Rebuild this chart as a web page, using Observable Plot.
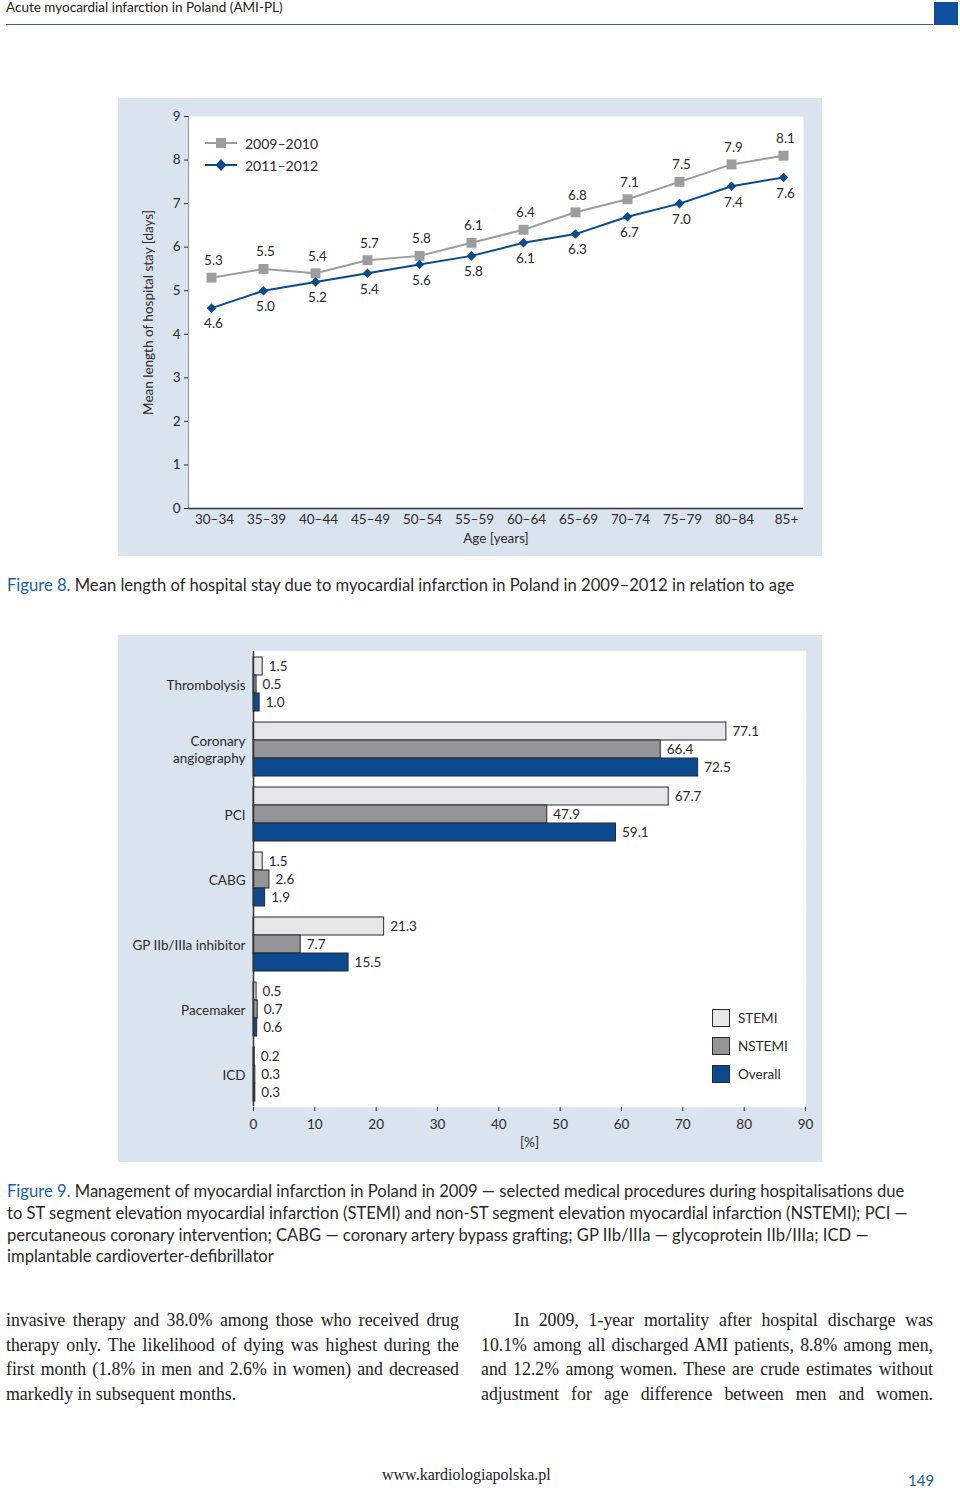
<!DOCTYPE html>
<html>
<head>
<meta charset="utf-8">
<script src="https://cdn.jsdelivr.net/npm/d3@7"></script>
<script src="https://cdn.jsdelivr.net/npm/@observablehq/plot@0.6"></script>
<style>
  html, body { margin: 0; padding: 0; background: #fff; }
  #page { position: relative; width: 960px; height: 1493px; overflow: hidden; font-family: Lato, "Noto Sans", sans-serif; color: #2a2a2a; }
  .abs { position: absolute; }
  .panel { background: #dae4ee; }
  .serif { font-family: "Liberation Serif", "DejaVu Serif", serif; }
  .jl { text-align: justify; text-align-last: justify; white-space: nowrap; }
  .blue { color: #1a5fae; }
  .leg { font-size: 14px; display: flex; align-items: center; height: 22px; }
</style>
</head>
<body>
<div id="page">
  <div class="abs" style="left:6px; top:-1px; font-size:13.5px; color:#222;">Acute myocardial infarction in Poland (AMI-PL)</div>
  <div class="abs" style="left:6px; top:24px; width:927px; height:1px; background:#3e5f7e;"></div>
  <div class="abs" style="left:934px; top:2px; width:24px; height:23px; background:#0f4f9e;"></div>

  <div id="panel1" class="abs panel" style="left:118px; top:98px; width:704px; height:458px;"></div>
  <div id="legend1" class="abs" style="left:205px; top:132px;"></div>

  <div class="abs" style="left:7px; top:575px; font-size:16.6px; white-space:nowrap;"><span class="blue">Figure 8.</span> Mean length of hospital stay due to myocardial infarction in Poland in 2009–2012 in relation to age</div>

  <div id="panel2" class="abs panel" style="left:118px; top:635px; width:704px; height:527px;"></div>
  <div id="legend2" class="abs" style="left:712px; top:1004px;"></div>

  <div class="abs" style="left:7px; top:1181px; font-size:16.6px; line-height:21.8px; white-space:nowrap;"><span class="blue">Figure 9.</span> Management of myocardial infarction in Poland in 2009 — selected medical procedures during hospitalisations due<br>to ST segment elevation myocardial infarction (STEMI) and non-ST segment elevation myocardial infarction (NSTEMI); PCI —<br>percutaneous coronary intervention; CABG — coronary artery bypass grafting; GP IIb/IIIa — glycoprotein IIb/IIIa; ICD —<br>implantable cardioverter-defibrillator</div>

  <div class="abs serif" style="left:6px; top:1308px; width:453px; font-size:17.8px; line-height:24.5px; color:#222;">
    <div class="jl">invasive therapy and 38.0% among those who received drug</div>
    <div class="jl">therapy only. The likelihood of dying was highest during the</div>
    <div class="jl">first month (1.8% in men and 2.6% in women) and decreased</div>
    <div style="white-space:nowrap;">markedly in subsequent months.</div>
  </div>
  <div class="abs serif" style="left:481px; top:1308px; width:452px; font-size:17.8px; line-height:24.5px; color:#222;">
    <div class="jl" style="padding-left:33px;">In 2009, 1-year mortality after hospital discharge was</div>
    <div class="jl">10.1% among all discharged AMI patients, 8.8% among men,</div>
    <div class="jl">and 12.2% among women. These are crude estimates without</div>
    <div class="jl">adjustment for age difference between men and women.</div>
  </div>

  <div class="abs serif" style="left:382px; top:1466px; font-size:16px; color:#222;">www.kardiologiapolska.pl</div>
  <div class="abs blue" style="left:908px; top:1471px; font-size:15px;">149</div>
</div>
<script>
// ---------- Figure 8 data ----------
const ages = ["30–34","35–39","40–44","45–49","50–54","55–59","60–64","65–69","70–74","75–79","80–84","85+"];
const periods = ["2009–2010","2011–2012"];
const stay2009_2010 = [5.3,5.5,5.4,5.7,5.8,6.1,6.4,6.8,7.1,7.5,7.9,8.1];
const stay2011_2012 = [4.6,5.0,5.2,5.4,5.6,5.8,6.1,6.3,6.7,7.0,7.4,7.6];
const yTicks1 = [0,1,2,3,4,5,6,7,8,9];

// ---------- Figure 9 data ----------
const procedures = ["Thrombolysis","Coronary\nangiography","PCI","CABG","GP IIb/IIIa inhibitor","Pacemaker","ICD"];
const groups = ["STEMI","NSTEMI","Overall"];
const stemi   = [1.5,77.1,67.7,1.5,21.3,0.5,0.2];
const nstemi  = [0.5,66.4,47.9,2.6,7.7,0.7,0.3];
const overall = [1.0,72.5,59.1,1.9,15.5,0.6,0.3];
const xTicks2 = [0,10,20,30,40,50,60,70,80,90];

const periodColors = ["#9d9d9d","#0b4a8f"];
const groupColors = ["#e6e7e8","#939598","#0b4a8f"];
const fmt = d3.format(".1f");

// ---------- Figure 8 ----------
const rowsA = ages.map((a,i)=>({age:a, period:periods[0], v:stay2009_2010[i]}));
const rowsB = ages.map((a,i)=>({age:a, period:periods[1], v:stay2011_2012[i]}));
const rows1 = rowsA.concat(rowsB);

const chart1 = Plot.plot({
  width: 704, height: 458,
  marginLeft: 70, marginRight: 19, marginTop: 18, marginBottom: 48,
  style: {fontFamily: "Lato, 'Noto Sans', sans-serif", fontSize: "13.5px", color: "#2a2a2a", background: "transparent", overflow: "visible"},
  x: {type: "point", domain: ages, range: [93, 665], padding: 0, round: false},
  y: {domain: [0,9], ticks: yTicks1, label: "Mean length of hospital stay [days]", labelAnchor: "center", labelArrow: "none", labelOffset: 45, tickSize: 4, tickPadding: 4, line: true},
  color: {domain: periods, range: periodColors},
  marks: [
    Plot.frame({fill: "white", stroke: null}),
    Plot.axisX({tickSize: 0, tickPadding: 6, dx: 3, label: null}),
    Plot.axisX({ticks: [], tickSize: 0, label: "Age [years]", labelAnchor: "center", labelArrow: "none", labelOffset: 34}),
    Plot.line(rows1, {x: "age", y: "v", z: "period", stroke: "period", strokeWidth: 2}),
    Plot.dot(rowsA, {x: "age", y: "v", symbol: "square", r: 5.6, fill: periodColors[0], stroke: null}),
    Plot.dot(rowsB, {x: "age", y: "v", symbol: "diamond2", r: 4.3, fill: periodColors[1], stroke: null}),
    Plot.text(rowsA, {x: "age", y: "v", text: d => fmt(d.v), dx: 2, dy: -17, fill: "#2a2a2a"}),
    Plot.text(rowsB, {x: "age", y: "v", text: d => fmt(d.v), dx: 2, dy: 16, fill: "#2a2a2a"}),
    Plot.ruleY([0], {stroke: "#333", strokeWidth: 1.5})
  ]
});
chart1.style.position = "absolute"; chart1.style.left = "0px"; chart1.style.top = "0px";
document.getElementById("panel1").appendChild(chart1);

// legend 1
const leg1 = document.getElementById("legend1");
periods.forEach((p,i) => {
  const row = document.createElement("div");
  row.className = "leg";
  const sym = i === 0
    ? `<rect x="11" y="6" width="10" height="10" fill="${periodColors[i]}"/>`
    : `<path d="M16,5 L21.5,11 L16,17 L10.5,11 Z" fill="${periodColors[i]}"/>`;
  row.innerHTML = `<svg width="32" height="22" style="margin-right:8px"><line x1="0" x2="32" y1="11" y2="11" stroke="${periodColors[i]}" stroke-width="2"/>${sym}</svg><span>${p}</span>`;
  leg1.appendChild(row);
});

// ---------- Figure 9 ----------
const rows2 = [];
procedures.forEach((p,i) => {
  rows2.push({procedure: p, group: groups[0], value: stemi[i]});
  rows2.push({procedure: p, group: groups[1], value: nstemi[i]});
  rows2.push({procedure: p, group: groups[2], value: overall[i]});
});

const chart2 = Plot.plot({
  width: 704, height: 527,
  marginLeft: 135, marginRight: 17, marginTop: 14, marginBottom: 55,
  style: {fontFamily: "Lato, 'Noto Sans', sans-serif", fontSize: "13.5px", color: "#2a2a2a", background: "transparent", overflow: "visible"},
  x: {domain: [0,90], ticks: xTicks2, label: "[%]", labelAnchor: "center", labelArrow: "none", labelOffset: 40, tickSize: 5, tickPadding: 8, line: true},
  y: {domain: groups, axis: null, paddingInner: 0, paddingOuter: 0.28},
  fy: {domain: procedures, padding: 0, axis: null, label: null},
  color: {domain: groups, range: groupColors},
  marks: [
    Plot.frame({fill: "white", stroke: "white", strokeWidth: 1.5}),
    Plot.axisFy({anchor: "left", tickSize: 0, tickPadding: 8, label: null, lineHeight: 1.3}),
    Plot.barX(rows2, {x: "value", y: "group", fy: "procedure", fill: "group", stroke: "#2a2a2a", strokeWidth: 1}),
    Plot.text(rows2, {x: "value", y: "group", fy: "procedure", text: d => fmt(d.value), dx: 6, textAnchor: "start", fill: "#2a2a2a"}),
    Plot.ruleX([0], {stroke: "#333", strokeWidth: 1.5})
  ]
});
chart2.style.position = "absolute"; chart2.style.left = "0px"; chart2.style.top = "0px";
document.getElementById("panel2").appendChild(chart2);

// legend 2
const leg2 = document.getElementById("legend2");
groups.forEach((g,i) => {
  const row = document.createElement("div");
  row.style.cssText = "display:flex; align-items:center; height:28px; font-size:13.5px;";
  row.innerHTML = `<svg width="18" height="18" style="margin-right:8px"><rect x="0.5" y="0.5" width="17" height="17" fill="${groupColors[i]}" stroke="#2a2a2a"/></svg><span>${g}</span>`;
  leg2.appendChild(row);
});
</script>
</body>
</html>
